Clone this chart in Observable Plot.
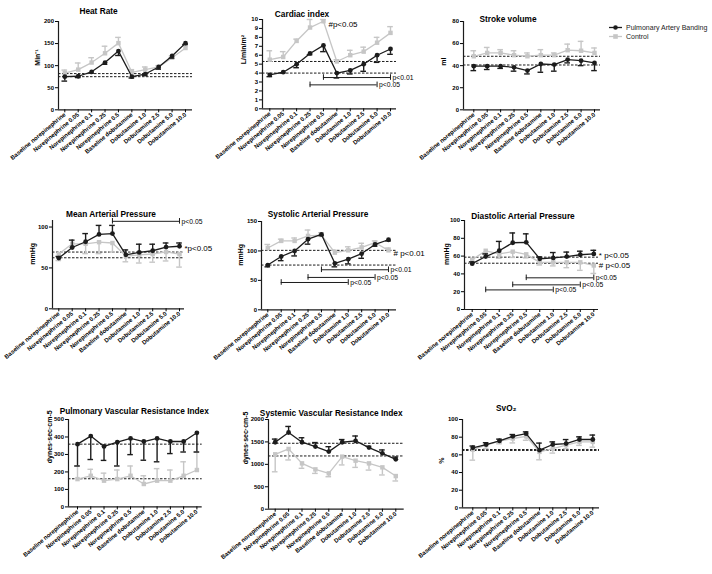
<!DOCTYPE html>
<html><head><meta charset="utf-8">
<script src="https://cdn.jsdelivr.net/npm/d3@7"></script>
<script src="https://cdn.jsdelivr.net/npm/@observablehq/plot@0.6"></script>
<style>
body{margin:0;background:#fff;}
#wrap{position:relative;width:712px;height:574px;overflow:hidden;font-family:"Liberation Sans",Arial,sans-serif;background:#fff;}
#wrap svg{position:absolute;}
.leg{position:absolute;font-size:7px;line-height:9px;white-space:nowrap;color:#1c1c1c;}
.leg div{display:flex;align-items:center;height:9px;}
.leg svg{position:static !important;margin-right:3px;}
</style></head><body><div id="wrap"></div>
<script>
const categories = ["Baseline norepinephrine","Norepinephrine 0.05","Norepinephrine 0.1","Norepinephrine 0.25","Norepinephrine 0.5","Baseline dobutamine","Dobutamine 1.0","Dobutamine 2.5","Dobutamine 5.0","Dobutamine 10.0"];
const seriesNames = ["Pulmonary Artery Banding","Control"];

// Heart rate
const hrPAB = [75,76,86,107,133,75,81,97,122,151];
const hrPABErr = [10,3,3,4,10,3,3,5,5,3];
const hrCtl = [83,91,107,128,151,85,91,97,118,140];
const hrCtlErr = [7,15,11,16,13,6,6,3,4,5];
const hrRef = [82,75];
const hrTicks = [0,50,100,150,200];

// Cardiac index
const ciPAB = [3.8,4.1,5.0,6.2,7.1,4.0,4.3,5.0,6.0,6.7];
const ciPABErr = [0.2,0.1,0.4,0.15,0.7,0.55,0.4,0.8,0.8,0.6];
const ciCtl = [5.5,5.8,7.6,9.1,9.8,5.3,6.0,6.4,7.4,8.5];
const ciCtlErr = [1.0,0.6,0.2,0.9,0.2,0.2,0.55,0.5,0.6,0.7];
const ciRef = [5.3,4.0];
const ciTicks = [0,1,2,3,4,5,6,7,8,9,10];
const ciBrackets = [{from:"Norepinephrine 0.5",to:"Dobutamine 10.0",y:3.5,label:"p<0.01"},{from:"Norepinephrine 0.25",to:"Dobutamine 5.0",y:2.68,label:"p<0.05"}];
const ciNotes = [{at:"Norepinephrine 0.5",y:9.4,label:"#p<0.05"}];

// Stroke volume
const svPAB = [39.5,39.5,39.5,38.5,35.5,41.5,41,45.5,44.5,42.5];
const svPABErr = [4,3,2,3.5,3,7.5,6,3,4.5,7];
const svCtl = [48.5,51.5,51.5,49.5,48.5,49.5,49.5,54,53.5,51.5];
const svCtlErr = [5,5,3,4,3,5,2,5.5,8.5,4.5];
const svRef = [48.5,40.6];
const svTicks = [0,20,40,60,80];

// Mean arterial pressure
const mapPAB = [62,75,82,91,92,66,69,71,75.5,76.5];
const mapPABErr = [2,9,10,11,10,6,10,8,5,4];
const mapCtl = [67,79.5,79.5,81.5,80.5,64.5,66,67,69.5,67];
const mapCtlErr = [8,4,12,14,11,7,10,10,11,16];
const mapRef = [69.4,62.4];
const mapTicks = [0,50,100];
const mapBrackets = [{from:"Norepinephrine 0.5",to:"Dobutamine 10.0",y:107,label:"p<0.05"}];
const mapNotes = [{at:"Dobutamine 10.0",y:73.4,label:"*p<0.05"}];

// Systolic arterial pressure
const sapPAB = [76,90.5,100,120,128,79,86,95.5,111,119];
const sapPABErr = [3,7,8.5,8.5,2,6,8,8,3,2];
const sapCtl = [105,117,117,125.5,127,97,101,106,114,101];
const sapCtlErr = [6,3,5,10,4,4,6,7,3,4];
const sapRef = [101,76];
const sapTicks = [0,50,100,150];
const sapBrackets = [{from:"Norepinephrine 0.5",to:"Dobutamine 10.0",y:68,label:"p<0.01"},{from:"Norepinephrine 0.25",to:"Dobutamine 5.0",y:55,label:"p<0.05"},{from:"Norepinephrine 0.05",to:"Dobutamine 1.0",y:46.4,label:"p<0.05"}];
const sapNotes = [{at:"Dobutamine 10.0",y:96.5,label:"# p<0.01"}];

// Diastolic arterial pressure
const dapPAB = [51.5,59.5,66,75,75.5,57,58,59.5,61.5,62.5];
const dapPABErr = [2,3,10.5,11,9.5,2,6,5,4,4];
const dapCtl = [56,66,62.5,65,62,53,53,53,53,49.5];
const dapCtlErr = [4,4,5,6.5,4,3,4,6,9,9];
const dapRef = [58.8,52];
const dapTicks = [0,20,40,60,80,100];
const dapBrackets = [{from:"Norepinephrine 0.5",to:"Dobutamine 10.0",y:35.6,label:"p<0.05"},{from:"Norepinephrine 0.25",to:"Dobutamine 5.0",y:27.7,label:"p<0.05"},{from:"Norepinephrine 0.05",to:"Dobutamine 1.0",y:22,label:"p<0.05"}];
const dapNotes = [{at:"Dobutamine 10.0",y:60.7,label:"* p<0.05"},{at:"Dobutamine 10.0",y:49.4,label:"# p<0.05"}];

// Pulmonary vascular resistance index
const pvrPAB = [359,405,346,370,392,374,392,374,374,424];
const pvrPABErr = [125,134,80,136,93,107,134,69,60,110];
const pvrCtl = [159,178,150,159,178,131,150,150,178,211];
const pvrCtlErr = [75,37,43,52,56,47,69,61,80,103];
const pvrRef = [359,161];
const pvrTicks = [0,100,200,300,400,500];

// Systemic vascular resistance index
const svrPAB = [1493,1710,1493,1396,1284,1493,1522,1373,1246,1112];
const svrPABErr = [70,135,100,90,110,60,110,30,75,50];
const svrCtl = [1224,1343,1022,888,799,1172,1082,1022,933,739];
const svrCtlErr = [390,245,110,90,75,185,150,150,170,110];
const svrRef = [1470,1187];
const svrTicks = [0,500,1000,1500,2000];

// SvO2
const so2PAB = [68,71.7,75.8,81,84,65.3,71.7,72.8,77.4,77.4];
const so2PABErr = [2,2,2,2,2,8,3,4.5,3,5];
const so2Ctl = [66,71,75.5,78.5,81,63.4,67,71,74.7,74.7];
const so2CtlErr = [12,4,3,5,4.5,9,5,4,4,6];
const so2Ref = [66,65];
const so2Ticks = [0,20,40,60,80,100];

const black = "#1c1c1c", grey = "#c6c6c6";

const panels = [
 {title:"Heat Rate", ylabel:"Min⁻¹", pab:hrPAB, pabErr:hrPABErr, ctl:hrCtl, ctlErr:hrCtlErr, ref:hrRef, ymax:200, ticks:hrTicks, dir:-1, brackets:[], notes:[],
  L:{x0:58,x1:192,c1:64.3,c10:185,yTop:20.7,yBot:109,tx:98,ty:7.5,lx:37}},
 {title:"Cardiac index", ylabel:"L/min/m²", pab:ciPAB, pabErr:ciPABErr, ctl:ciCtl, ctlErr:ciCtlErr, ref:ciRef, ymax:10, ticks:ciTicks, dir:-1, brackets:ciBrackets, notes:ciNotes,
  L:{x0:262,x1:396,c1:269.3,c10:390,yTop:19,yBot:108.3,tx:301.5,ty:11,lx:243}},
 {title:"Stroke volume", ylabel:"ml", pab:svPAB, pabErr:svPABErr, ctl:svCtl, ctlErr:svCtlErr, ref:svRef, ymax:80, ticks:svTicks, dir:-1, brackets:[], notes:[],
  L:{x0:463,x1:600,c1:473.3,c10:594,yTop:20.7,yBot:109,tx:507.5,ty:15,lx:443}},
 {title:"Mean Arterial Pressure", ylabel:"mmHg", pab:mapPAB, pabErr:mapPABErr, ctl:mapCtl, ctlErr:mapCtlErr, ref:mapRef, ymax:108, ticks:mapTicks, dir:1, brackets:mapBrackets, notes:mapNotes,
  L:{x0:52,x1:184,c1:58.3,c10:179,yTop:220,yBot:308.3,tx:110.5,ty:210.7,lx:32}},
 {title:"Systolic Arterial Pressure", ylabel:"mmHg", pab:sapPAB, pabErr:sapPABErr, ctl:sapCtl, ctlErr:sapCtlErr, ref:sapRef, ymax:150, ticks:sapTicks, dir:-1, brackets:sapBrackets, notes:sapNotes,
  L:{x0:261,x1:396,c1:267.3,c10:388,yTop:220.7,yBot:309,tx:317.5,ty:210.7,lx:240}},
 {title:"Diastolic Arterial Pressure", ylabel:"mmHg", pab:dapPAB, pabErr:dapPABErr, ctl:dapCtl, ctlErr:dapCtlErr, ref:dapRef, ymax:100, ticks:dapTicks, dir:1, brackets:dapBrackets, notes:dapNotes,
  L:{x0:464,x1:598,c1:471.7,c10:593.3,yTop:220,yBot:309,tx:522.5,ty:213,lx:446}},
 {title:"Pulmonary Vascular Resistance Index", ylabel:"dynes·sec·cm-5", pab:pvrPAB, pabErr:pvrPABErr, ctl:pvrCtl, ctlErr:pvrCtlErr, ref:pvrRef, ymax:500, ticks:pvrTicks, dir:-1, brackets:[], notes:[],
  L:{x0:68.3,x1:202,c1:77.3,c10:196.7,yTop:419.3,yBot:506.7,tx:134,ty:408.3,lx:50}},
 {title:"Systemic Vascular Resistance Index", ylabel:"dynes·sec·cm-5", pab:svrPAB, pabErr:svrPABErr, ctl:svrCtl, ctlErr:svrCtlErr, ref:svrRef, ymax:2000, ticks:svrTicks, dir:1, brackets:[], notes:[],
  L:{x0:268,x1:403.7,c1:274.7,c10:395.3,yTop:419.3,yBot:509,tx:330.7,ty:409.5,lx:245}},
 {title:"SvO₂", ylabel:"%", pab:so2PAB, pabErr:so2PABErr, ctl:so2Ctl, ctlErr:so2CtlErr, ref:so2Ref, ymax:100, ticks:so2Ticks, dir:1, brackets:[], notes:[],
  L:{x0:462,x1:599,c1:472.3,c10:592.3,yTop:419.3,yBot:507.7,tx:505.7,ty:405,lx:441}}
];

const wrap = document.getElementById("wrap");
const mL = 50, mR = 90, mT = 25, mB = 75;
const n = categories.length;
const idx = c => categories.indexOf(c);

for (const p of panels) {
  const L = p.L;
  const step = (L.c10 - L.c1) / (n - 1);
  const xd = [(L.x0 - L.c1) / step, (n - 1) + (L.x1 - L.c10) / step];
  const pxPer = (L.yBot - L.yTop) / p.ymax;
  const capH = 2.8 / pxPer;
  const mk = (vals, errs, dir) => vals.map((v, i) => ({i, v, e: v + dir * errs[i]}));
  const a = mk(p.pab, p.pabErr, p.dir);
  const b = mk(p.ctl, p.ctlErr, -p.dir);
  const br = p.brackets.map(d => ({a: idx(d.from), b: idx(d.to), y: d.y, label: d.label}));
  const notes = p.notes.map(d => ({x: idx(d.at), y: d.y, label: d.label}));
  const w = (L.x1 - L.x0) + mL + mR, h = (L.yBot - L.yTop) + mT + mB;
  const series = (data, color, symbol, r) => [
    Plot.ruleX(data, {x: "i", y1: "v", y2: "e", stroke: color, strokeWidth: 1.4}),
    Plot.ruleY(data, {x1: d => d.i - 0.21, x2: d => d.i + 0.21, y: "e", stroke: color, strokeWidth: 1.4}),
    Plot.line(data, {x: "i", y: "v", stroke: color, strokeWidth: 1.3}),
    Plot.dot(data, {x: "i", y: "v", symbol, fill: color, stroke: "none", r})
  ];
  const chart = Plot.plot({
    width: w, height: h, marginLeft: mL, marginRight: mR, marginTop: mT, marginBottom: mB,
    style: {background: "transparent", overflow: "visible", fontFamily: "'Liberation Sans', Arial, sans-serif", color: "#000"},
    x: {type: "linear", domain: xd},
    y: {domain: [0, p.ymax]},
    marks: [
      Plot.ruleY(p.ref, {stroke: "#000", strokeDasharray: "2.5,1.5", strokeWidth: 0.9}),
      ...series(b, grey, "square", 2.5),
      ...series(a, black, "circle", 2.4),
      Plot.ruleY(br, {x1: "a", x2: "b", y: "y", stroke: black, strokeWidth: 1}),
      Plot.ruleX(br, {x: "a", y1: d => d.y - capH, y2: d => d.y + capH, stroke: black, strokeWidth: 1}),
      Plot.ruleX(br, {x: "b", y1: d => d.y - capH, y2: d => d.y + capH, stroke: black, strokeWidth: 1}),
      Plot.text(br, {x: "b", y: "y", text: "label", textAnchor: "start", dx: 2, fontSize: 6.8, fill: "#000"}),
      Plot.text(notes, {x: "x", y: "y", text: "label", textAnchor: "start", dx: 5, fontSize: 8, fill: "#000"}),
      Plot.ruleX([xd[0]], {stroke: black, strokeWidth: 1.2}),
      Plot.ruleY([0], {stroke: black, strokeWidth: 1.2}),
      Plot.axisY({ticks: p.ticks, tickFormat: d => String(d), tickSize: 3, tickPadding: 1.5, fontSize: 6, fontWeight: "bold", label: null}),
      Plot.axisX({ticks: d3.range(n), tickFormat: i => categories[i], tickRotate: -40, tickSize: 3, tickPadding: 1, fontSize: 6, fontWeight: "bold", label: null}),
      Plot.text([p.title], {frameAnchor: "top-left", dx: L.tx - L.x0, dy: L.ty - L.yTop, fontWeight: "bold", fontSize: 8.3, textAnchor: "middle", fill: "#000"}),
      Plot.text([p.ylabel], {frameAnchor: "left", dx: L.lx - L.x0, rotate: -90, fontWeight: "bold", fontSize: 7, fill: "#000"})
    ]
  });
  chart.style.position = "absolute";
  chart.style.left = (L.x0 - mL) + "px";
  chart.style.top = (L.yTop - mT) + "px";
  wrap.appendChild(chart);
}

// legend
const leg = document.createElement("div");
leg.className = "leg";
leg.style.left = "608px";
leg.style.top = "23px";
const legColors = [black, grey];
seriesNames.forEach((name, k) => {
  const row = document.createElement("div");
  const c = legColors[k];
  const mark = k === 0 ? `<circle cx="7.5" cy="4.5" r="2.3" fill="${c}"/>` : `<rect x="5.2" y="2.2" width="4.6" height="4.6" fill="${c}"/>`;
  row.innerHTML = `<svg width="15" height="9"><line x1="1" x2="14" y1="4.5" y2="4.5" stroke="${c}" stroke-width="1.3"/>${mark}</svg><span>${name}</span>`;
  leg.appendChild(row);
});
wrap.appendChild(leg);
</script>
</body></html>
